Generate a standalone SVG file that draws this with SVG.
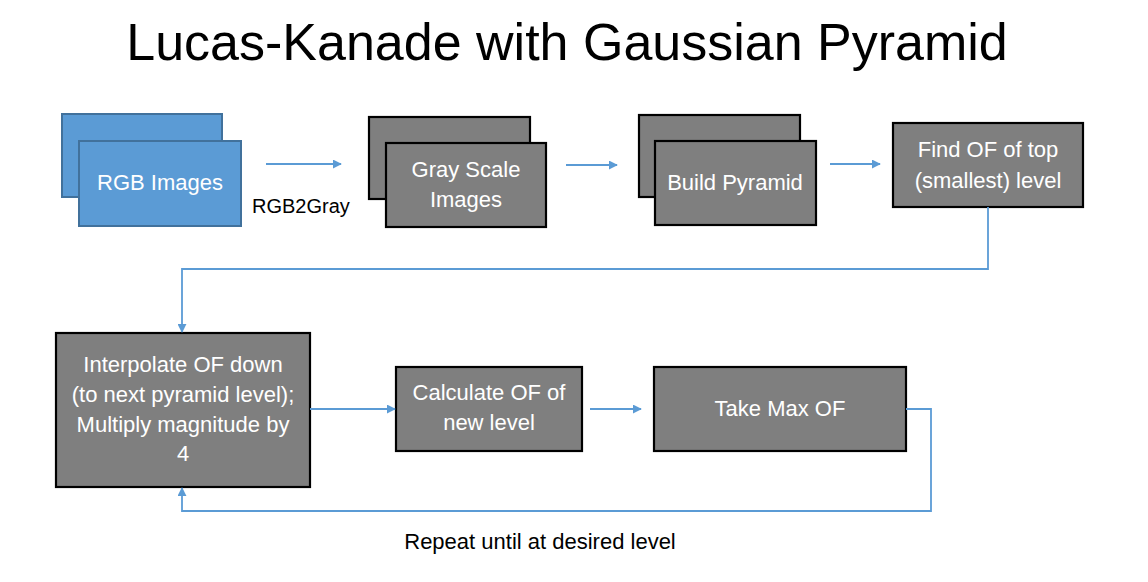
<svg xmlns="http://www.w3.org/2000/svg" width="1148" height="582" viewBox="0 0 1148 582">
<defs>
<style>
.blue{fill:#5B9BD5;stroke:#41719C;stroke-width:2}
.gray{fill:#7F7F7F;stroke:#000;stroke-width:2.2}
.nt{font-family:"Liberation Sans",Arial,sans-serif;font-size:22px;fill:#FFFFFF;text-anchor:middle}
.lbl{font-family:"Liberation Sans",Arial,sans-serif;fill:#000}
.con{fill:none;stroke:#5B9BD5;stroke-width:1.8}
</style>
<marker id="ah" viewBox="0 0 10 10" refX="9" refY="5" markerWidth="5" markerHeight="5" orient="auto" markerUnits="strokeWidth">
<path d="M0,0 L10,5 L0,10 z" fill="#5B9BD5"/>
</marker>
</defs>
<rect width="1148" height="582" fill="#FFFFFF"/>
<text x="567" y="60" font-family="'Liberation Sans',Arial,sans-serif" font-size="52" text-anchor="middle" fill="#000">Lucas-Kanade with Gaussian Pyramid</text>

<g id="rgb">
<rect class="blue" x="62" y="114" width="160" height="83"/>
<rect class="blue" x="79" y="141" width="162" height="85"/>
<text class="nt" x="160" y="190">RGB Images</text>
</g>
<g id="gray">
<rect class="gray" x="369" y="117" width="161" height="82"/>
<rect class="gray" x="386" y="143" width="160" height="84"/>
<text class="nt" x="466" y="177">Gray Scale</text>
<text class="nt" x="466" y="207">Images</text>
</g>
<g id="pyramid">
<rect class="gray" x="639" y="115" width="161" height="82"/>
<rect class="gray" x="655" y="141" width="161" height="84"/>
<text class="nt" x="735" y="190">Build Pyramid</text>
</g>
<g id="findtop">
<rect class="gray" x="893" y="123" width="190" height="84"/>
<text class="nt" x="988" y="157">Find OF of top</text>
<text class="nt" x="988" y="188">(smallest) level</text>
</g>
<g id="interp">
<rect class="gray" x="56" y="333" width="254" height="154"/>
<text class="nt" x="183" y="372">Interpolate OF down</text>
<text class="nt" x="183" y="402">(to next pyramid level);</text>
<text class="nt" x="183" y="432">Multiply magnitude by</text>
<text class="nt" x="183" y="461">4</text>
</g>
<g id="calc">
<rect class="gray" x="396" y="367" width="186" height="84"/>
<text class="nt" x="489" y="400">Calculate OF of</text>
<text class="nt" x="489" y="430">new level</text>
</g>
<g id="takemax">
<rect class="gray" x="654" y="367" width="252" height="84"/>
<text class="nt" x="780" y="416">Take Max OF</text>
</g>

<g id="connectors">
<path class="con" d="M266,164 H341" marker-end="url(#ah)"/>
<path class="con" d="M566,165 H617" marker-end="url(#ah)"/>
<path class="con" d="M830,164 H880" marker-end="url(#ah)"/>
<path class="con" d="M988,207 V269 H182 V332" marker-end="url(#ah)"/>
<path class="con" d="M310,409 H395" marker-end="url(#ah)"/>
<path class="con" d="M590,409 H641" marker-end="url(#ah)"/>
<path class="con" d="M906,409 H931 V511 H182 V488" marker-end="url(#ah)"/>
<text class="lbl" x="252" y="213" font-size="20">RGB2Gray</text>
<text class="lbl" x="540" y="549" font-size="22" text-anchor="middle">Repeat until at desired level</text>
</g>
</svg>
